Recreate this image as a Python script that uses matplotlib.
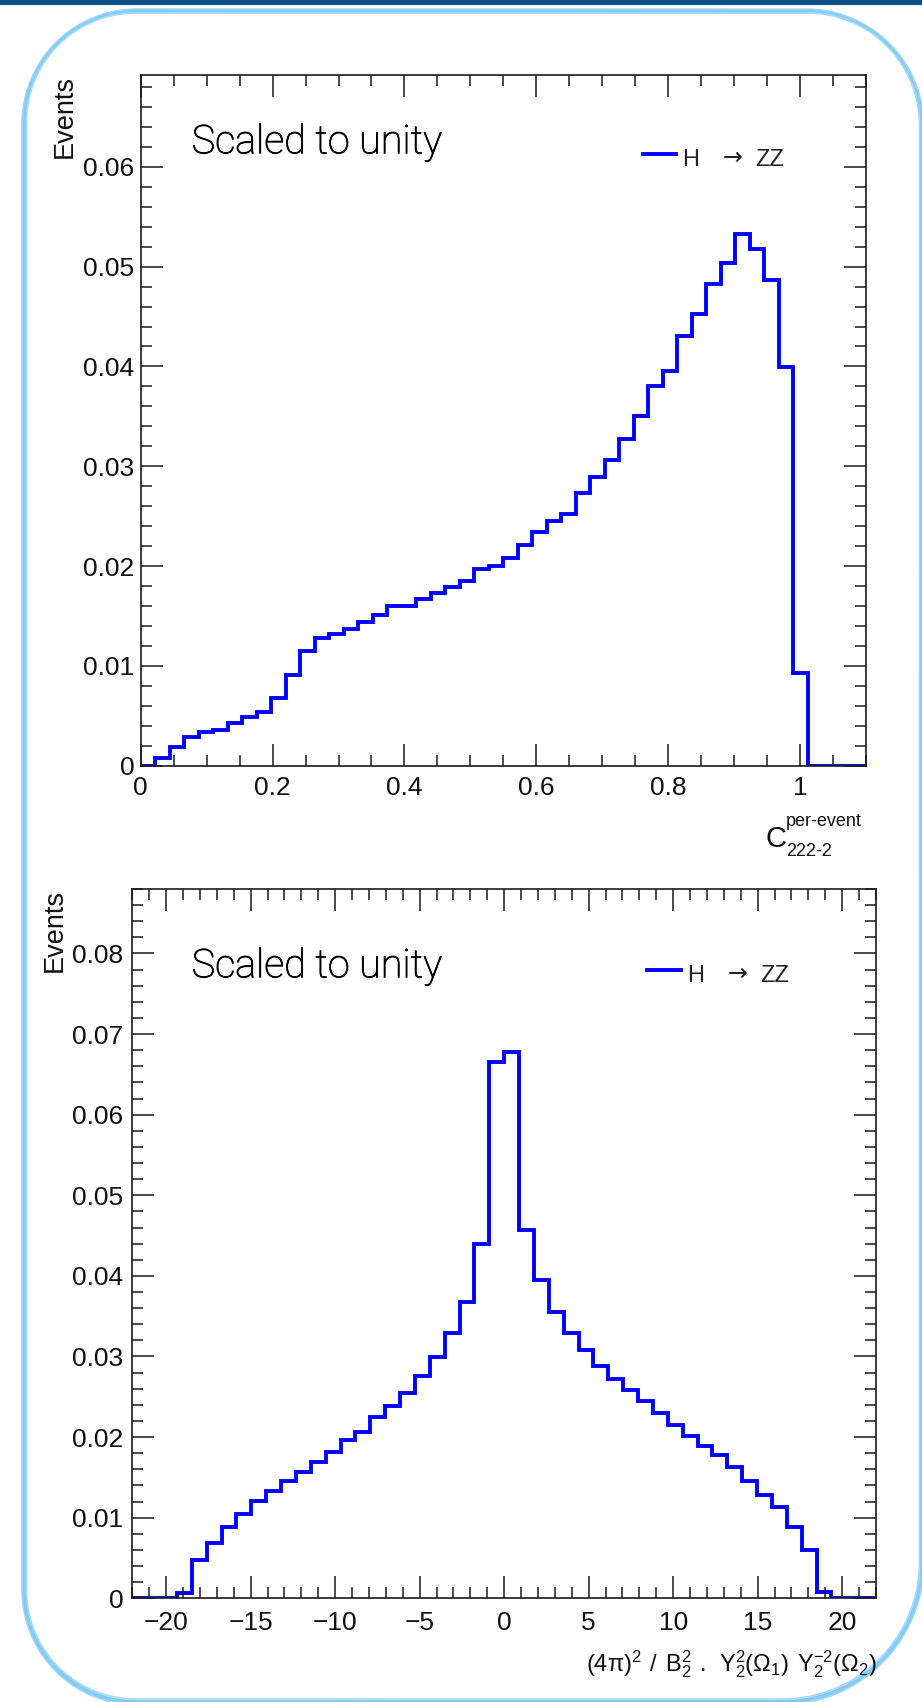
import numpy as np
import matplotlib
matplotlib.use('Agg')
import matplotlib.pyplot as plt
import matplotlib.patheffects as pe
from matplotlib.ticker import MultipleLocator, FixedLocator, FixedFormatter
from matplotlib.patches import Rectangle
from matplotlib.transforms import IdentityTransform
from matplotlib.lines import Line2D

# ---------------- data ----------------
top_nbins, top_xmin, top_xmax = 50, 0.0, 1.1
top_values = [0.0, 0.00074, 0.0019, 0.00284, 0.00338, 0.00358, 0.0043, 0.0049, 0.0054, 0.00675,
              0.0091, 0.0115, 0.01276, 0.0132, 0.0137, 0.01443, 0.0151, 0.0160, 0.0160, 0.0167,
              0.01727, 0.01787, 0.01853, 0.01967, 0.0200, 0.02077, 0.0221, 0.0234, 0.02454, 0.02525,
              0.02735, 0.02895, 0.03062, 0.0327, 0.03503, 0.03807, 0.03954, 0.04304, 0.04525, 0.04822,
              0.05032, 0.05326, 0.05176, 0.04865, 0.03997, 0.00932, 0.0, 0.0, 0.0, 0.0]
top_xticks = [0, 0.2, 0.4, 0.6, 0.8, 1.0]
top_xticklabels = ['0', '0.2', '0.4', '0.6', '0.8', '1']
top_yticks = [0, 0.01, 0.02, 0.03, 0.04, 0.05, 0.06]
top_yticklabels = ['0', '0.01', '0.02', '0.03', '0.04', '0.05', '0.06']

bot_nbins, bot_xmin, bot_xmax = 50, -22.0, 22.0
bot_values = [0.0, 0.0, 0.0, 0.00062, 0.00475, 0.0069, 0.00888, 0.01046, 0.0121, 0.01335,
              0.01455, 0.0157, 0.01687, 0.01819, 0.01964, 0.0206, 0.02245, 0.02389, 0.0255, 0.02761,
              0.02997, 0.03287, 0.03679, 0.04395, 0.06648, 0.0678, 0.04568, 0.03948, 0.03547, 0.03287,
              0.0308, 0.02885, 0.0272, 0.02584, 0.02451, 0.02294, 0.0215, 0.02017, 0.01893, 0.01777,
              0.01633, 0.01455, 0.01281, 0.01136, 0.00888, 0.00599, 0.00082, 0.0, 0.0, 0.0]
bot_xticks = [-20, -15, -10, -5, 0, 5, 10, 15, 20]
bot_xticklabels = ['\u221220', '\u221215', '\u221210', '\u22125', '0', '5', '10', '15', '20']
bot_yticks = [0, 0.01, 0.02, 0.03, 0.04, 0.05, 0.06, 0.07, 0.08]
bot_yticklabels = ['0', '0.01', '0.02', '0.03', '0.04', '0.05', '0.06', '0.07', '0.08']

legend_label = ('H', '\u2192', 'ZZ')

# ---------------- style ----------------
W, H = 922, 1702
plt.rcParams['font.family'] = ['Liberation Sans', 'DejaVu Sans']
plt.rcParams['mathtext.fontset'] = 'custom'
plt.rcParams['mathtext.rm'] = 'Liberation Sans'
plt.rcParams['mathtext.it'] = 'Liberation Sans:italic'
plt.rcParams['mathtext.sf'] = 'Liberation Sans'
plt.rcParams['mathtext.default'] = 'regular'

fig = plt.figure(figsize=(W / 100, H / 100), dpi=100)
fig.patch.set_facecolor('white')


def fx(px):
    return px / W


def fy(py):
    return 1 - py / H


def axes_px(left, top, right, bottom):
    return fig.add_axes([fx(left), fy(bottom), (right - left) / W, (bottom - top) / H])


AXC = '#1a1a1a'
BLUE = '#0000ff'


def style_axes(ax, xpad, ypad):
    ax.tick_params(which='both', direction='in', top=True, right=True, width=1.1,
                   color=AXC, labelcolor='#111111', labelsize=19)
    ax.tick_params(which='major', length=15.5)
    ax.tick_params(which='minor', length=7.8)
    ax.tick_params(axis='x', which='both', pad=xpad)
    ax.tick_params(axis='y', which='both', pad=ypad)
    for s in ax.spines.values():
        s.set_linewidth(1.2)
        s.set_color(AXC)


# ---------------- top panel ----------------
ax1 = axes_px(140.7, 75, 866, 765.7)
top_edges = np.linspace(top_xmin, top_xmax, top_nbins + 1)
ax1.stairs(top_values, top_edges, color=BLUE, linewidth=2.8)
ax1.set_xlim(top_xmin, top_xmax)
ax1.set_ylim(0, 0.0692)
ax1.xaxis.set_major_locator(FixedLocator(top_xticks))
ax1.xaxis.set_major_formatter(FixedFormatter(top_xticklabels))
ax1.xaxis.set_minor_locator(MultipleLocator(0.05))
ax1.yaxis.set_major_locator(FixedLocator(top_yticks))
ax1.yaxis.set_major_formatter(FixedFormatter(top_yticklabels))
ax1.yaxis.set_minor_locator(MultipleLocator(0.002))
style_axes(ax1, 7.5, 4.5)

# ---------------- bottom panel ----------------
ax2 = axes_px(132.3, 889, 876, 1598.3)
bot_edges = np.linspace(bot_xmin, bot_xmax, bot_nbins + 1)
ax2.stairs(bot_values, bot_edges, color=BLUE, linewidth=2.8)
ax2.set_xlim(bot_xmin, bot_xmax)
ax2.set_ylim(0, 0.088)
ax2.xaxis.set_major_locator(FixedLocator(bot_xticks))
ax2.xaxis.set_major_formatter(FixedFormatter(bot_xticklabels))
ax2.xaxis.set_minor_locator(MultipleLocator(1))
ax2.yaxis.set_major_locator(FixedLocator(bot_yticks))
ax2.yaxis.set_major_formatter(FixedFormatter(bot_yticklabels))
ax2.yaxis.set_minor_locator(MultipleLocator(0.002))
style_axes(ax2, 9, 6.5)

# ---------------- texts ----------------
for (x, y) in [(191.7, 153.3), (191.7, 977.3)]:
    fig.text(fx(x), fy(y), 'Scaled to unity', fontsize=28.5, ha='left', va='baseline',
             color='#000000', family=['Roboto', 'Liberation Sans'], fontweight='light',
             path_effects=[pe.withStroke(linewidth=0.6, foreground='#000000')])

# y labels "Events"
for (x, y) in [(71.7, 75), (62, 889)]:
    fig.text(fx(x), fy(y), 'Events', fontsize=19.5, rotation=90, rotation_mode='anchor',
             ha='right', va='baseline', color='#111111')

# legends
for (lx0, lx1, ly, tx, tbase) in [(642.7, 676, 154.3, 682.3, 166), (646.7, 680.7, 970, 687.3, 981.7)]:
    fig.add_artist(Line2D([fx(lx0), fx(lx1)], [fy(ly), fy(ly)], color=BLUE, lw=2.8,
                          transform=fig.transFigure))
    fig.text(fx(tx), fy(tbase), legend_label[0], fontsize=17, ha='left', va='baseline',
             color='#222222')
    fig.text(fx(tx + 40), fy(tbase - 1), legend_label[1], fontsize=17, ha='left', va='baseline',
             color='#222222', family=['DejaVu Sans'])
    fig.text(fx(tx + 73), fy(tbase), legend_label[2], fontsize=17, ha='left', va='baseline',
             color='#222222')

# top x label C^{per-event}_{222-2}
fig.text(fx(765.7), fy(846.7), 'C', fontsize=21, ha='left', va='baseline', color='#111111')
fig.text(fx(785.7), fy(826), 'per-event', fontsize=13, ha='left', va='baseline', color='#111111')
fig.text(fx(785.7), fy(855.7), '222-2', fontsize=13, ha='left', va='baseline', color='#111111')

# bottom x label
fig.text(fx(876.7), fy(1671.7),
         r'$(4\pi)^2\;\,/\;\,B_2^2\;\,.\;\,Y_2^2(\Omega_1)\;\,Y_2^{-2}(\Omega_2)$',
         fontsize=17, ha='right', va='baseline', color='#111111')

# ---------------- decorations (frame) ----------------
idt = IdentityTransform()
fig.add_artist(Rectangle((0, H - 4.5), W, 4.5, transform=idt, facecolor='#0b5185',
                         edgecolor='none'))


def rounded_rect(x0, y0, x1, y1, radii, n=40):
    xs, ys = [], []
    rtl, rtr, rbr, rbl = radii
    corners = [((x0 + rtl, y0 + rtl), rtl, 180, 270), ((x1 - rtr, y0 + rtr), rtr, 270, 360),
               ((x1 - rbr, y1 - rbr), rbr, 0, 90), ((x0 + rbl, y1 - rbl), rbl, 90, 180)]
    for (cx, cy), r, a0, a1 in corners:
        t = np.radians(np.linspace(a0, a1, n))
        xs.extend(cx + r * np.cos(t))
        ys.extend(cy + r * np.sin(t))
    xs.append(xs[0])
    ys.append(ys[0])
    return [fx(v) for v in xs], [fy(v) for v in ys]


for (x0, y0, x1, y1, d, lw, col) in [(24, 11, 922, 1702, 0, 3.0, '#84cbf7'),
                                     (26.5, 13, 919.5, 1699, -3, 1.2, '#a6dafb'),
                                     (22, 9, 924, 1705, 3, 1.0, '#9fd6fa')]:
    xs, ys = rounded_rect(x0, y0, x1, y1, (112 + d, 115 + d, 140 + d, 112 + d))
    fig.add_artist(Line2D(xs, ys, color=col, lw=lw, transform=fig.transFigure,
                          solid_joinstyle='round'))

fig.savefig('out.png', dpi=100, facecolor='white')
